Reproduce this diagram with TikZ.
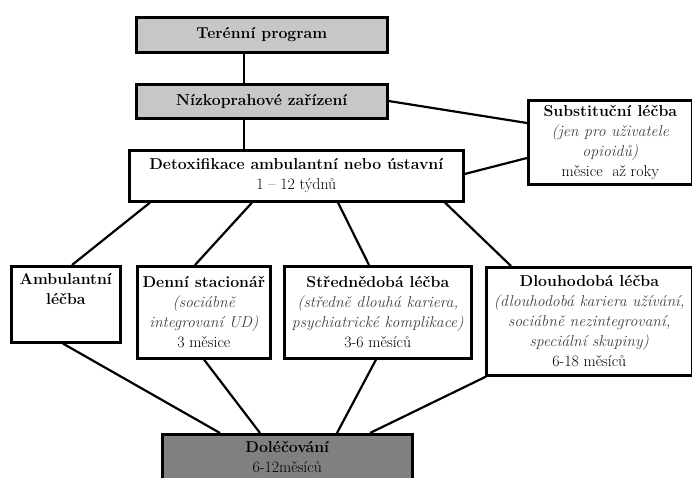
\documentclass[tikz,border=0pt]{standalone}
\usepackage{fontspec}
\begin{document}
\begin{tikzpicture}[x=1pt,y=-1pt,
  box/.style={draw=black,line width=2.6pt,anchor=north west,inner sep=0pt,align=center,
    font=\fontsize{15.8}{20}\selectfont},
  lightbox/.style={box,fill=black!22},
  darkbox/.style={box,fill=black!50},
  txt/.style={inner sep=0pt,align=center,font=\fontsize{15.8}{20}\selectfont},
  conn/.style={line width=2.2pt}]
\useasboundingbox (0,0) rectangle (692,478);
\newcommand{\itx}[1]{{\itshape\color{black!75}#1}}
% boxes
\node[lightbox,minimum width=251pt,minimum height=35pt] (ter) at (135,16) {\bfseries Terénní program};
\node[lightbox,minimum width=251pt,minimum height=34pt] (niz) at (135,83) {\bfseries Nízkoprahové zařízení};
\node[box,minimum width=334pt,minimum height=51pt] (det) at (128,149) {\bfseries Detoxifikace ambulantní nebo ústavní\\1 -- 12 týdnů};
\node[box,minimum width=164pt,minimum height=84pt] (sub) at (527,99) {\bfseries Substituční léčba\\\itx{(jen pro uživatele}\\\itx{opioidů)}\\měsice\ \ až roky};
\node[box,minimum width=109pt,minimum height=76pt] (amb) at (10,265) {};
\node[txt,anchor=north] (ambt) at ([yshift=-8pt]amb.north) {\bfseries Ambulantní\\\bfseries léčba};
\node[box,minimum width=133pt,minimum height=92pt] (den) at (136,265) {\bfseries Denní stacionář\\\itx{(sociábně}\\\itx{integrovaní UD)}\\3 měsice};
\node[box,minimum width=187pt,minimum height=92pt] (str) at (283,265) {\bfseries Střednědobá léčba\\\itx{(středně dlouhá kariera,}\\\itx{psychiatrické komplikace)}\\3-6 měsíců};
\node[box,minimum width=206pt,minimum height=108pt] (dlo) at (485,266) {\bfseries Dlouhodobá léčba\\\itx{(dlouhodobá kariera užívání,}\\\itx{sociábně nezintegrovaní,}\\\itx{speciální skupiny)}\\6-18 měsíců};
\node[darkbox,minimum width=250pt,minimum height=60pt] (dol) at (161,433) {};
\node[txt,anchor=north] (dolt) at ([yshift=-8pt]dol.north) {\bfseries Doléčování\\6-12měsíců};
% connectors
\draw[conn] ([xshift=109pt]ter.south west) -- ([xshift=109pt]niz.north west);
\draw[conn] ([xshift=109pt]niz.south west) -- ([xshift=116pt]det.north west);
\draw[conn] ([yshift=-18pt]niz.north east) -- ([yshift=-24pt]sub.north west);
\draw[conn] ([yshift=-25pt]det.north east) -- ([yshift=-59pt]sub.north west);
\draw[conn] ([xshift=22pt]det.south west) -- ([xshift=62pt]amb.north west);
\draw[conn] ([xshift=124pt]det.south west) -- ([xshift=59pt]den.north west);
\draw[conn] ([xshift=210pt]det.south west) -- ([xshift=86pt]str.north west);
\draw[conn] ([xshift=317pt]det.south west) -- ([xshift=26pt]dlo.north west);
\draw[conn] ([xshift=53pt]amb.south west) -- ([xshift=59pt]dol.north west);
\draw[conn] ([xshift=68pt]den.south west) -- ([xshift=99pt]dol.north west);
\draw[conn] ([xshift=93pt]str.south west) -- ([xshift=176pt]dol.north west);
\draw[conn] ([xshift=1pt]dlo.south west) -- ([xshift=209pt]dol.north west);
\end{tikzpicture}
\end{document}
